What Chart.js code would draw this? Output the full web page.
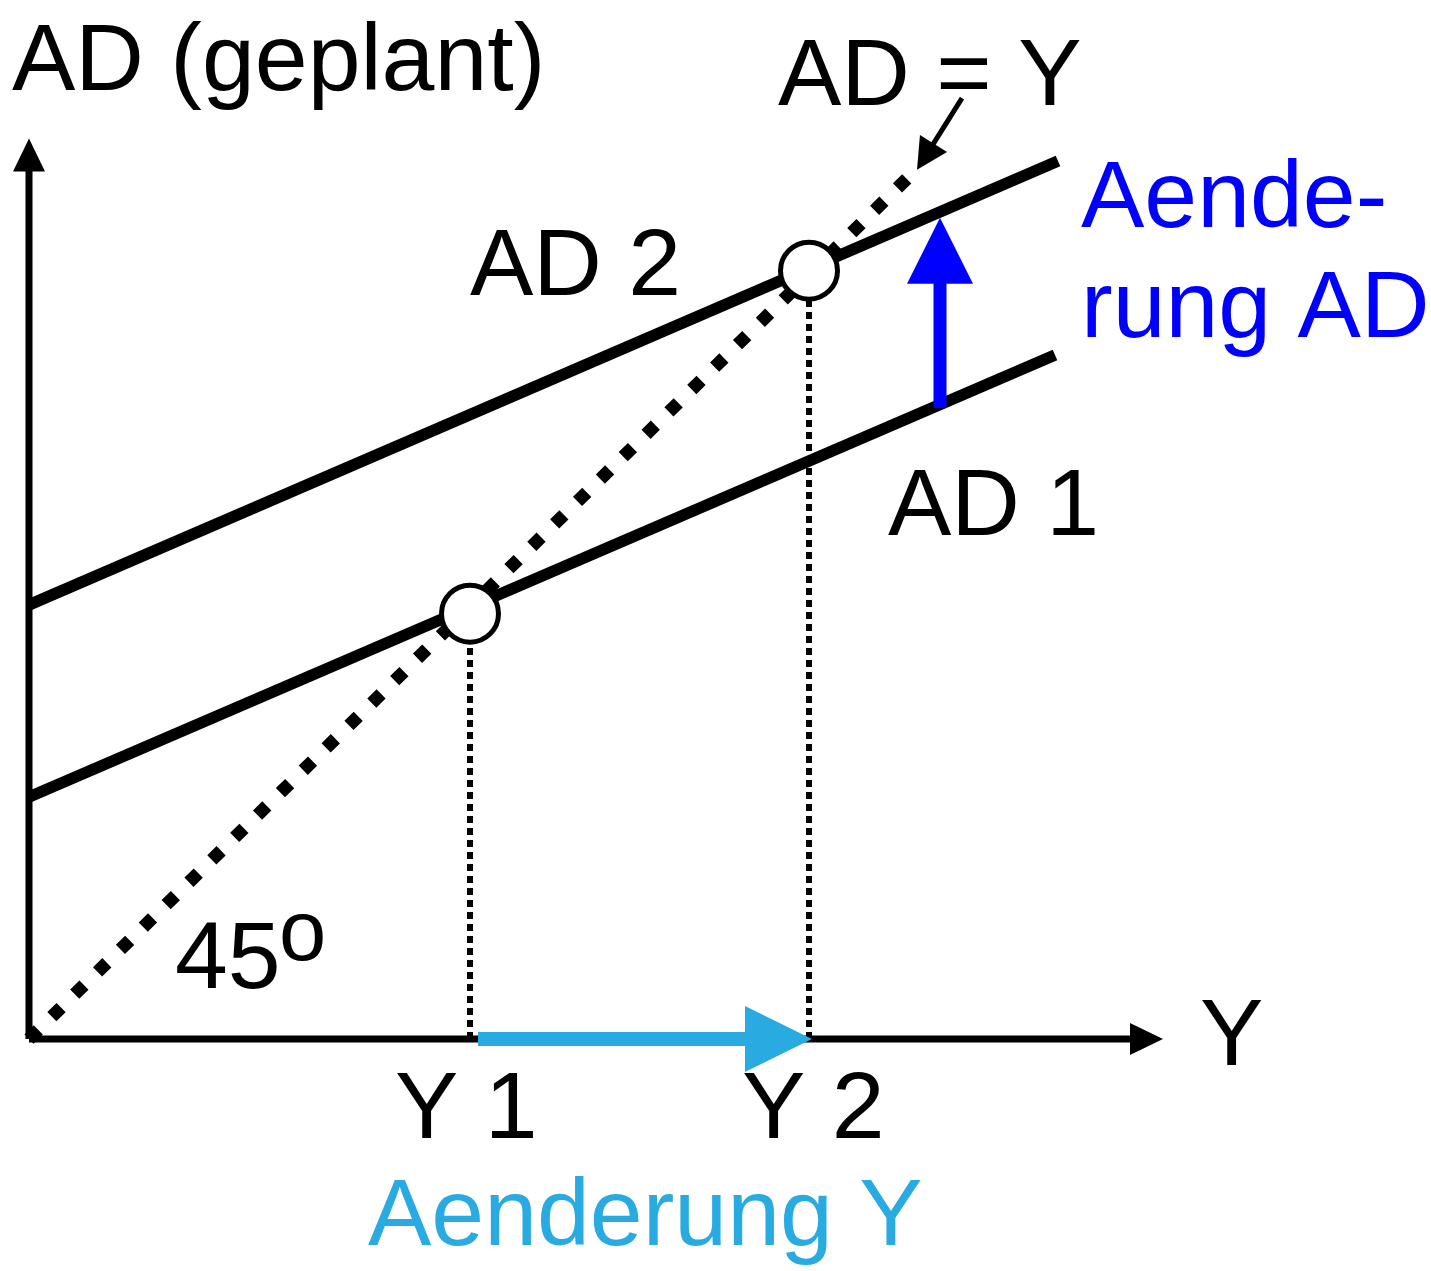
<!DOCTYPE html>
<html>
<head>
<meta charset="utf-8">
<script src="https://cdn.jsdelivr.net/npm/chart.js@4"></script>
<style>
  html, body { margin: 0; padding: 0; background: #fff; }
  #wrap { width: 1431px; height: 1271px; }
</style>
</head>
<body>
<div id="wrap"><canvas id="keynes"></canvas></div>
<script>
// values (x = income Y, y = planned AD)
const ad1Line = [{ x: 0, y: 24.7 }, { x: 102.6, y: 69.8 }];
const ad2Line = [{ x: 0, y: 44.3 }, { x: 102.9, y: 89.6 }];
const line45 = [{ x: 0, y: 0 }, { x: 88, y: 88 }];
const equilibria = [{ x: 44.1, y: 43.4 }, { x: 78, y: 78.4 }];
const yLevels = [44.1, 78];

const axisY = [{ x: 0, y: 0 }, { x: 0, y: 91.9 }];
const axisX = [{ x: 0, y: 0 }, { x: 113.4, y: 0 }];
const shiftAD = [{ x: 91.1, y: 64.4 }, { x: 91.1, y: 83.8 }];
const shiftY = [{ x: 44.9, y: 0 }, { x: 78.3, y: 0 }];
const pointerAD = [{ x: 93.3, y: 96.0 }, { x: 88.8, y: 88.7 }];

const labelTexts = ['AD (geplant)', 'AD = Y', 'AD 2', 'Aende-', 'rung AD', 'AD 1', 'Y', 'Y 1', 'Y 2', 'Aenderung Y', '45', 'o'];

const BLUE = '#0000ff';
const LIGHTBLUE = '#29abe2';
const FONT = "'Liberation Sans', Arial, sans-serif";

// where each label sits (data units) and how it looks
const labelStyle = [
  { x: -1.7, y: 96.8, color: '#000', size: 95 },
  { x: 74.9, y: 95.3, color: '#000', size: 95 },
  { x: 44.1, y: 75.9, color: '#000', size: 95 },
  { x: 105.2, y: 82.9, color: BLUE, size: 95 },
  { x: 105.2, y: 71.6, color: BLUE, size: 95 },
  { x: 85.9, y: 51.4, color: '#000', size: 95 },
  { x: 117.1, y: -2.65, color: '#000', size: 95 },
  { x: 36.6, y: -10.1, color: '#000', size: 95 },
  { x: 71.3, y: -10.1, color: '#000', size: 95 },
  { x: 33.9, y: -21.0, color: LIGHTBLUE, size: 95 },
  { x: 14.6, y: 5.2, color: '#000', size: 95 },
  { x: 25.0, y: 8.1, color: '#000', size: 85 }
];

const arrows = [
  { pts: axisY, color: '#000', width: 7, headLen: 33, headHalf: 16 },
  { pts: axisX, color: '#000', width: 7, headLen: 33, headHalf: 16 },
  { pts: shiftY, color: LIGHTBLUE, width: 14, headLen: 67, headHalf: 33 },
  { pts: shiftAD, color: BLUE, width: 13, headLen: 66, headHalf: 33 },
  { pts: pointerAD, color: '#000', width: 5, headLen: 31, headHalf: 16 }
];

function drawArrow(ctx, sx, sy, ex, ey, a) {
  const ang = Math.atan2(ey - sy, ex - sx);
  const bx = ex - Math.cos(ang) * a.headLen;
  const by = ey - Math.sin(ang) * a.headLen;
  ctx.strokeStyle = a.color;
  ctx.fillStyle = a.color;
  ctx.lineWidth = a.width;
  ctx.lineCap = 'butt';
  ctx.beginPath();
  ctx.moveTo(sx, sy);
  ctx.lineTo(bx + Math.cos(ang), by + Math.sin(ang));
  ctx.stroke();
  ctx.beginPath();
  ctx.moveTo(ex, ey);
  ctx.lineTo(bx + Math.sin(ang) * a.headHalf, by - Math.cos(ang) * a.headHalf);
  ctx.lineTo(bx - Math.sin(ang) * a.headHalf, by + Math.cos(ang) * a.headHalf);
  ctx.closePath();
  ctx.fill();
}

const arrowPlugin = {
  id: 'arrows',
  beforeDatasetsDraw(chart) {
    const { ctx, scales: { x, y } } = chart;
    ctx.save();
    arrows.slice(0, 2).forEach(a => {
      drawArrow(ctx, x.getPixelForValue(a.pts[0].x), y.getPixelForValue(a.pts[0].y),
        x.getPixelForValue(a.pts[1].x), y.getPixelForValue(a.pts[1].y), a);
    });
    ctx.restore();
  },
  afterDatasetsDraw(chart) {
    const { ctx, scales: { x, y } } = chart;
    ctx.save();
    arrows.slice(2).forEach(a => {
      drawArrow(ctx, x.getPixelForValue(a.pts[0].x), y.getPixelForValue(a.pts[0].y),
        x.getPixelForValue(a.pts[1].x), y.getPixelForValue(a.pts[1].y), a);
    });
    ctx.textAlign = 'left';
    ctx.textBaseline = 'alphabetic';
    labelTexts.forEach((t, i) => {
      const s = labelStyle[i];
      ctx.font = s.size + 'px ' + FONT;
      ctx.fillStyle = s.color;
      ctx.fillText(t, x.getPixelForValue(s.x), y.getPixelForValue(s.y));
    });
    ctx.restore();
  }
};

const solid = { borderColor: '#000', borderWidth: 11.5, pointRadius: 0, showLine: true, fill: false, borderCapStyle: 'butt' };

new Chart(document.getElementById('keynes'), {
  type: 'scatter',
  data: {
    datasets: [
      {
        label: 'Gleichgewicht',
        data: equilibria,
        order: 0,
        pointRadius: 28.5,
        pointBorderWidth: 5,
        pointBackgroundColor: '#fff',
        pointBorderColor: '#000',
        showLine: false
      },
      Object.assign({ label: 'AD 2', data: ad2Line, order: 1 }, solid),
      Object.assign({ label: 'AD 1', data: ad1Line, order: 2 }, solid),
      {
        label: 'AD = Y',
        data: line45,
        order: 3,
        borderColor: '#000',
        borderWidth: 13,
        borderDash: [13, 19],
        borderCapStyle: 'butt',
        pointRadius: 0,
        showLine: true
      },
      ...yLevels.map((v, i) => ({
        label: 'Y ' + (i + 1),
        data: [{ x: v, y: 0 }, { x: v, y: equilibria[i].y }],
        order: 4,
        borderColor: '#000',
        borderWidth: 6,
        borderDash: [7, 5],
        borderCapStyle: 'butt',
        pointRadius: 0,
        showLine: true
      }))
    ]
  },
  options: {
    responsive: true,
    maintainAspectRatio: false,
    animation: false,
    layout: { padding: 0, autoPadding: false },
    plugins: { legend: { display: false }, tooltip: { enabled: false } },
    scales: {
      x: { type: 'linear', min: -2.9, max: 140.2, display: false },
      y: { type: 'linear', min: -23.67, max: 106.02, display: false }
    }
  },
  plugins: [arrowPlugin]
});
</script>
</body>
</html>
